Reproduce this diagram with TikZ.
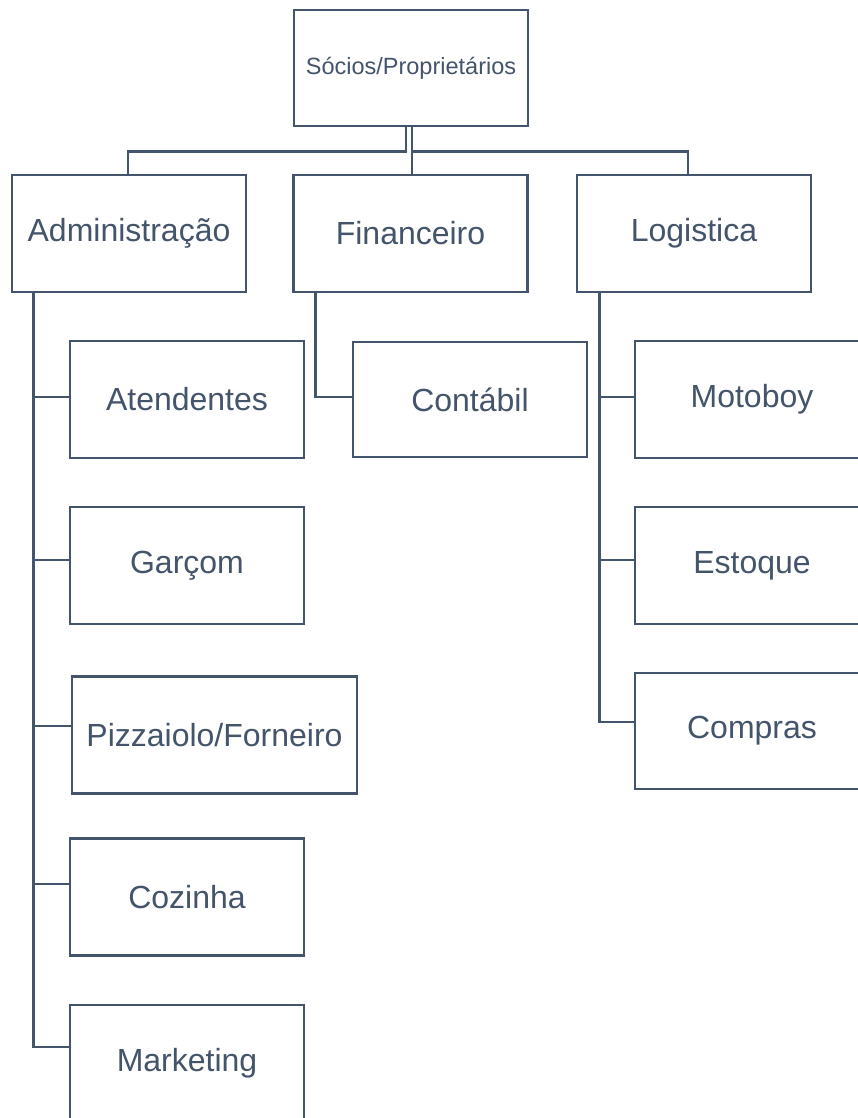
\documentclass[tikz,border=0pt]{standalone}
\usepackage{fontspec}
\setmainfont{Liberation Sans}
\definecolor{slate}{HTML}{44546A}
\begin{document}
\begin{tikzpicture}[x=1pt,y=-1pt,
  orgbox/.style={draw=slate, line width=2.6pt, fill=white, inner sep=0pt,
    minimum width=234pt, minimum height=117pt, text=slate,
    font=\fontsize{32}{37}\selectfont},
  link/.style={draw=slate, line width=2.6pt}]
\useasboundingbox (0,0) rectangle (858,1118);
\clip (0,0) rectangle (858,1118);
\fill[white] (0,0) rectangle (858,1118);
% nodes
\node[orgbox, minimum height=116pt, font=\fontsize{23.5}{28}\selectfont] (top) at (411,68) {Sócios/Proprietários};
\node[orgbox] (admin) at (129,233.5) {Administração};
\node[orgbox] (fin) at (410.5,233.5) {Financeiro};
\node[orgbox] (log) at (694,233.5) {Logistica};
\node[orgbox] (atend) at (187,399.5) {Atendentes};
\node[orgbox] (garcom) at (187,565.5) {Garçom};
\node[orgbox, minimum width=285pt] (pizza) at (214.5,735) {Pizzaiolo/Forneiro};
\node[orgbox] (cozinha) at (187,897) {Cozinha};
\node[orgbox] (mkt) at (187,1063.5) {Marketing};
\node[orgbox, minimum height=115pt] (cont) at (470,399.5) {Contábil};
\node[orgbox] (moto) at (752,399.5) {Motoboy};
\node[orgbox] (est) at (752,565.5) {Estoque};
\node[orgbox, minimum height=116pt] (comp) at (752,731) {Compras};
% top-level connectors
\draw[link] ([xshift=-5pt]top.south) -- ++(0,24) -| ([xshift=-1pt]admin.north);
\draw[link] ([xshift=1pt]top.south) -- ([xshift=1pt]top.south |- fin.north);
\draw[link] ([xshift=1pt]top.south) ++(0,24) -| ([xshift=-6pt]log.north);
% administracao branches
\draw[link] ([yshift=2.5pt]atend.west) -| ([xshift=23pt]admin.south west);
\draw[link] ([yshift=5.5pt]garcom.west) -| ([xshift=23pt]admin.south west);
\draw[link] ([yshift=9pt]pizza.west) -| ([xshift=23pt]admin.south west);
\draw[link] ([yshift=13pt]cozinha.west) -| ([xshift=23pt]admin.south west);
\draw[link] ([yshift=16.5pt]mkt.west) -| ([xshift=23pt]admin.south west);
% financeiro branch
\draw[link] ([yshift=2.5pt]cont.west) -| ([xshift=23pt]fin.south west);
% logistica branches
\draw[link] ([yshift=2.5pt]moto.west) -| ([xshift=24pt]log.south west);
\draw[link] ([yshift=5.5pt]est.west) -| ([xshift=24pt]log.south west);
\draw[link] ([yshift=9pt]comp.west) -| ([xshift=24pt]log.south west);
\end{tikzpicture}
\end{document}
